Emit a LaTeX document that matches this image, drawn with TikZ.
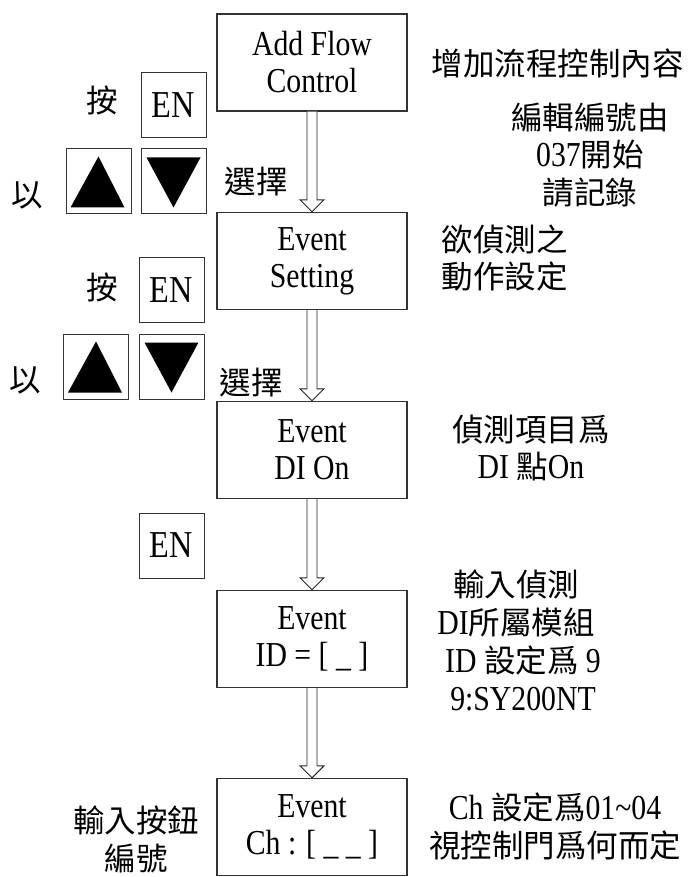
\documentclass[tikz,border=0pt]{standalone}
\usepackage{fontspec}
\setmainfont{Liberation Serif}[FakeStretch=0.85]
\newfontfamily\cjk{Noto Sans CJK TC}[Scale=0.9]
\usetikzlibrary{calc}
\newcommand\zh[1]{{\cjk #1}}
\newcommand\flowarrow[2]{%
  \draw[blockarrow] ($(#1.south)+(-5,0)$) -- ($(#2.north)+(-5,-12)$)
    -- ($(#2.north)+(-12,-12)$) -- (#2.north) -- ($(#2.north)+(12,-12)$)
    -- ($(#2.north)+(5,-12)$) -- ($(#1.south)+(5,0)$);}
\newcommand\uptri[1]{%
  \fill ($(#1.south west)+(5,-7)$) -- ($(#1.south east)+(-7,-7)$) -- ($(#1.north)+(0,8)$) -- cycle;}
\newcommand\downtri[1]{%
  \fill ($(#1.north west)+(6,9)$) -- ($(#1.north east)+(-6,9)$) -- ($(#1.south)+(0,-7)$) -- cycle;}
\tikzset{
  flowbox/.style={draw=black!80, line width=1.3pt, minimum width=190pt, minimum height=97pt,
    inner sep=0pt, align=center, font=\fontsize{35}{37}\selectfont},
  keybox/.style={draw=black!80, line width=1pt, minimum width=65pt, minimum height=65pt,
    inner sep=0pt, font=\fontsize{38}{40}\selectfont},
  note/.style={inner sep=0pt, align=center, font=\fontsize{35}{37.5}\selectfont},
  blockarrow/.style={draw=black!85, line width=0.9pt, fill=white},
}
\begin{document}
\begin{tikzpicture}[x=1pt,y=-1pt]
\fill[white] (0,0) rectangle (688,877);
\useasboundingbox (0,0) rectangle (688,877);

% main flow boxes
\node[flowbox] (b1) at (312,62.5) {Add Flow\\Control};
\node[flowbox] (b2) at (312,261) {Event\\Setting};
\node[flowbox] (b3) at (312,450) {Event\\DI On};
\node[flowbox] (b4) at (312,639) {Event\\ID = [ \_ ]};
\node[flowbox] (b5) at (312,827) {Event\\Ch : [ \_ \_ ]};

\flowarrow{b1}{b2}
\flowarrow{b2}{b3}
\flowarrow{b3}{b4}
\flowarrow{b4}{b5}

% key boxes
\node[keybox] (en1) at (173.5,105) {EN};
\node[keybox] (u1) at (98.5,181.5) {};
\node[keybox] (d1) at (173.5,181.5) {};
\uptri{u1}
\downtri{d1}
\node[keybox] (en2) at (171.5,290) {EN};
\node[keybox] (u2) at (96,366.5) {};
\node[keybox] (d2) at (171.5,366.5) {};
\uptri{u2}
\downtri{d2}
\node[keybox] (en3) at (171.5,545.5) {EN};

% left labels
\node[note] (an1) at (102,100) {\zh{按}};
\node[note] (yi1) at (27,195) {\zh{以}};
\node[note] (xz1) at (256,182) {\zh{選擇}};
\node[note] (an2) at (102,287) {\zh{按}};
\node[note] (yi2) at (25,380) {\zh{以}};
\node[note] (xz2) at (251,383) {\zh{選擇}};
\node[note] (l5) at (136,839.5) {\zh{輸入按鈕}\\\zh{編號}};

% right notes
\node[note] (r1) at (557.5,63) {\zh{增加流程控制內容}};
\node[note] (r2) at (590,155) {\zh{編輯編號由}\\037\zh{開始}\\\zh{請記錄}};
\node[note] (r3) at (504.5,258) {\zh{欲偵測之}\\\zh{動作設定}};
\node[note] (r4) at (531,448) {\zh{偵測項目爲}\\DI \zh{點}On};
\node[note] (r5) at (516,603.5) {\zh{輸入偵測}\\DI\zh{所屬模組}};
\node[note] (r6) at (523,678.5) {ID \zh{設定爲} 9\\9:SY200NT};
\node[note] (r7) at (555,826.5) {Ch \zh{設定爲}01\textasciitilde04\\\zh{視控制門爲何而定}};
\end{tikzpicture}
\end{document}
